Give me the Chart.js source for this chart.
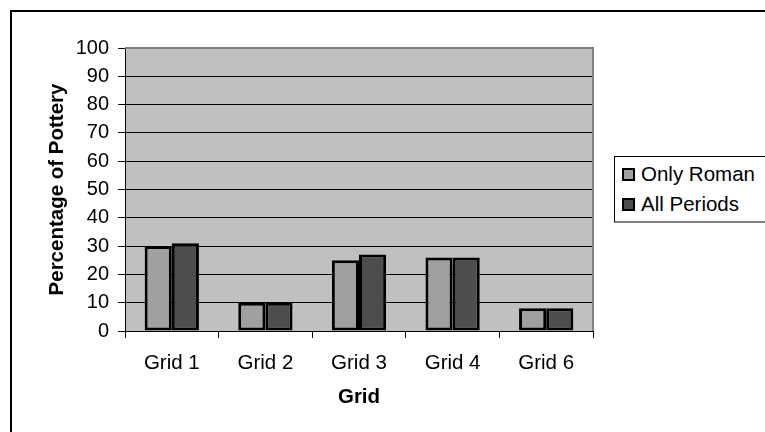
<!DOCTYPE html>
<html>
<head>
<meta charset="utf-8">
<script src="https://cdn.jsdelivr.net/npm/chart.js@4"></script>
<style>
  body { margin: 0; background: #fff; font-family: "Liberation Sans", Arial, sans-serif; }
  #frame { position: absolute; left: 10px; top: 10px; width: 800px; height: 500px; border: 2px solid #000; }
  #wrap { position: absolute; left: 0; top: 0; width: 765px; height: 432px; overflow: hidden; }
  canvas { position: absolute; left: 0; top: 0; }
  #legend { position: absolute; left: 614px; top: 156px; width: 170px; height: 64px;
            border: 1px solid #000; border-bottom: 2px solid #808080; background: #fff; }
  .item { position: absolute; left: 7px; font-size: 20.5px; color: #000; white-space: nowrap; line-height: 20px; }
  .sw { display: inline-block; width: 9px; height: 9px; border: 2px solid #000; margin-right: 6px; vertical-align: 0px; }
</style>
</head>
<body>
<div id="wrap">
  <div id="frame"></div>
  <canvas id="chart" width="765" height="432"></canvas>
  <div id="legend"></div>
</div>
<script>
const categories = ['Grid 1', 'Grid 2', 'Grid 3', 'Grid 4', 'Grid 6'];
const onlyRoman = [30, 10, 25, 26, 8];
const allPeriods = [31, 10, 27, 26, 8];
const seriesNames = ['Only Roman', 'All Periods'];
const colors = ['#a0a0a0', '#4d4d4d'];

// plot area background + gray frame like the original
const plotBg = {
    id: 'plotBg',
    beforeDraw(chart) {
        const { ctx, chartArea: a } = chart;
        ctx.save();
        ctx.fillStyle = '#c0c0c0';
        ctx.fillRect(a.left, a.top, a.right - a.left, a.bottom - a.top);
        ctx.restore();
    },
    afterDraw(chart) {
        const { ctx, chartArea: a } = chart;
        ctx.save();
        ctx.strokeStyle = '#808080';
        ctx.lineWidth = 2;
        ctx.beginPath();
        ctx.moveTo(a.left, a.top);
        ctx.lineTo(a.right, a.top);
        ctx.lineTo(a.right, a.bottom);
        ctx.stroke();
        ctx.restore();
    }
};

const ctx = document.getElementById('chart').getContext('2d');
const chart = new Chart(ctx, {
    type: 'bar',
    data: {
        labels: categories,
        datasets: [
            { label: seriesNames[0], data: onlyRoman, backgroundColor: colors[0], borderColor: '#000', borderWidth: 3, borderSkipped: false },
            { label: seriesNames[1], data: allPeriods, backgroundColor: colors[1], borderColor: '#000', borderWidth: 3, borderSkipped: false }
        ]
    },
    options: {
        responsive: false,
        animation: false,
        layout: { padding: { top: 48, right: 172, left: 0, bottom: 0 } },
        datasets: { bar: { categoryPercentage: 0.58, barPercentage: 1 } },
        plugins: { legend: { display: false }, tooltip: { enabled: false } },
        scales: {
            x: {
                afterFit: (s) => { s.height = 101; },
                grid: { display: true, drawOnChartArea: false, offset: true, tickLength: 7, color: '#000' },
                border: { color: '#000', width: 1 },
                ticks: { font: { family: 'Liberation Sans', size: 20.5 }, color: '#000', padding: 13 },
                title: { display: true, text: 'Grid', color: '#000',
                         font: { family: 'Liberation Sans', size: 20.5, weight: 'bold' }, padding: { top: 0, bottom: 22 } }
            },
            y: {
                min: 0, max: 100,
                afterFit: (s) => { s.width = 125; },
                grid: { color: '#000', tickLength: 7, lineWidth: 1 },
                border: { color: '#000', width: 1 },
                ticks: { stepSize: 10, font: { family: 'Liberation Sans', size: 20 }, color: '#000', padding: 9 },
                title: { display: true, text: 'Percentage of Pottery', color: '#000',
                         font: { family: 'Liberation Sans', size: 20.5, weight: 'bold' }, padding: { top: 45, bottom: 0 } }
            }
        }
    },
    plugins: [plotBg]
});

// legend built from the same series names/colours
const legend = document.getElementById('legend');
seriesNames.forEach((name, i) => {
    const row = document.createElement('div');
    row.className = 'item';
    row.style.top = (7 + i * 30) + 'px';
    row.innerHTML = '<span class="sw" style="background:' + colors[i] + '"></span>' + name;
    legend.appendChild(row);
});
</script>
</body>
</html>
